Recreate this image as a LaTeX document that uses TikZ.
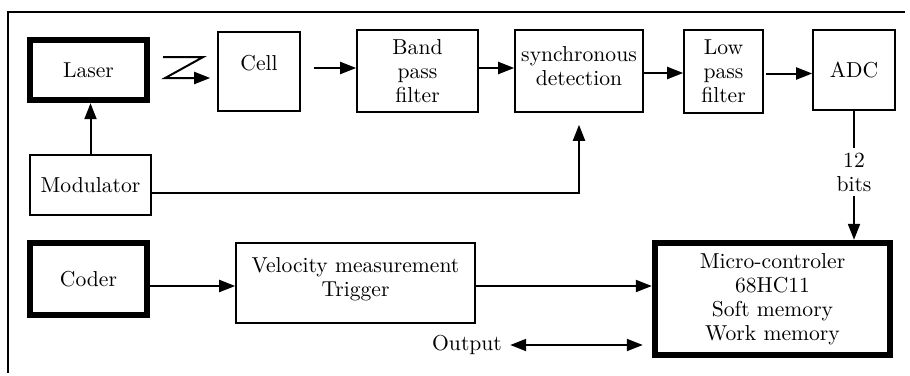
\documentclass[tikz,border=0pt]{standalone}
\usepackage{tikz}
\usetikzlibrary{positioning, calc, arrows.meta}
\tikzset{
    blocknode/.style={
        draw, line width=0.8pt, align=center, inner sep=2pt, anchor=center,
        font=\fontsize{10.8}{12}\selectfont
    },
    boldnode/.style={
        blocknode, line width=3.2pt
    },
    ptr/.style={
        -{Triangle[length=8pt, width=6pt]}, line width=1pt
    },
    dptr/.style={
        {Triangle[length=8pt, width=6pt]}-{Triangle[length=8pt, width=6pt]}, line width=1pt
    },
    labelnode/.style={
        align=center, inner sep=2pt, font=\fontsize{10.8}{12}\selectfont
    }
}

\begin{document}
\begin{tikzpicture}[x=0.5pt, y=-0.5pt]
                \useasboundingbox (0,0) rectangle (910,375);
                \draw[line width=0.8pt] (905,12) -- (8,12) -- (8,373);
                % optical chain
                \node[boldnode, minimum width=58.5pt, minimum height=30pt] (laser) at (88.5,70) {Laser};
                \node[blocknode, minimum width=41pt, minimum height=39.5pt] (cell) at (259,71.5) {Cell\\[-3.5pt]~};
                \node[blocknode, minimum width=60.5pt, minimum height=41pt] (band) at (417.5,71) {Band\\pass\\filter};
                \node[blocknode, minimum width=64pt, minimum height=41pt, inner xsep=1pt] (sync) at (579,71) {synchronous\\detection\\[-7pt]~};
                \node[blocknode, minimum width=39.5pt, minimum height=41.5pt] (low) at (723.5,71.5) {Low\\pass\\filter};
                \node[blocknode, minimum width=41pt, minimum height=40pt] (adc) at (854,70) {ADC};
                \node[blocknode, minimum width=60.5pt, minimum height=30pt] (modulator) at (90.5,185) {Modulator};
                % acquisition
                \node[boldnode, minimum width=58.5pt, minimum height=36pt] (coder) at (88.5,279) {Coder};
                \node[blocknode, minimum width=119.5pt, minimum height=40pt] (velocity) at (355.5,283) {Velocity measurement\\Trigger\\[-6pt]~};
                \node[boldnode, minimum width=117.5pt, minimum height=56pt] (micro) at (772.5,299) {Micro-controler\\68HC11\\Soft memory\\Work memory};
                \node[labelnode] (bits) at (854,172) {12\\bits};
                \node[labelnode] (output) at (467,345) {Output};
                \coordinate (beam) at ($(laser.east)+(13,-13)$);
                \draw[ptr, shorten >=3.5pt] (beam) -- ++(40,0) -- ++(-38,21) -- ([yshift=-3.25pt]cell.west);
                \draw[ptr] (modulator.north) -- (modulator.north |- laser.south);
                \draw[ptr, shorten >=6pt] ([yshift=-4pt]modulator.east) -| (sync.south);
                \draw[ptr, shorten <=6.5pt] ([yshift=1.5pt]band.west -| cell.east) -- ([yshift=1.5pt]band.west);
                \draw[ptr] ([yshift=1.5pt]band.east) -- ([yshift=1.5pt]sync.west);
                \draw[ptr] ([yshift=-1pt]sync.east) -- ([yshift=-1pt]sync.east -| low.west);
                \draw[ptr, shorten <=1pt] ([yshift=-1pt]low.east) -- ([yshift=-1pt]low.east -| adc.west);
                \draw[line width=1pt] (adc.south) -- (bits.north);
                \draw[ptr] (bits.south) -- (bits.south |- micro.north);
                \draw[ptr] ([yshift=-3.5pt]coder.east) -- ([yshift=-3.5pt]coder.east -| velocity.west);
                \draw[ptr] ([yshift=-1.5pt]velocity.east) -- ([yshift=-1.5pt]velocity.east -| micro.west);
                \draw[dptr, shorten <=2pt, shorten >=4.5pt] (output.east) -- (output.east -| micro.west);
            \end{tikzpicture}
\end{document}
